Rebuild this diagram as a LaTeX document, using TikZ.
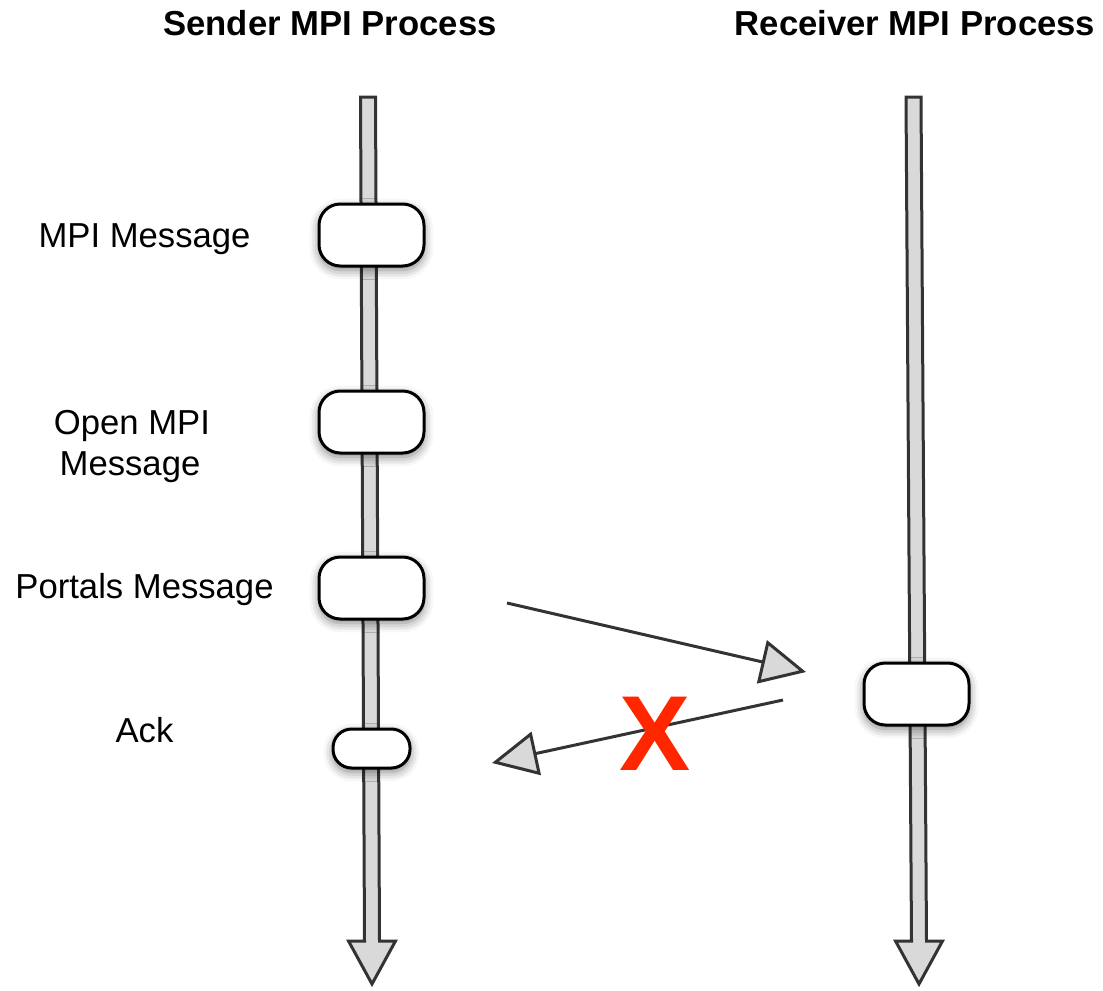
\documentclass[tikz,border=0pt]{standalone}
\usepackage{fontspec}
\setmainfont{Liberation Sans}
\usetikzlibrary{arrows.meta,shadows.blur}
\definecolor{shaftgray}{HTML}{D9D9D9}
\definecolor{edgegray}{HTML}{333333}
\definecolor{xred}{HTML}{FF2600}
\tikzset{
  proc/.style={font=\bfseries\fontsize{26}{28}\selectfont, anchor=base},
  lbl/.style={font=\fontsize{26}{28}\selectfont, align=center},
  evt/.style={draw=black, line width=2.25pt, fill=white, rounded corners=16pt,
    minimum width=78.75pt, minimum height=46.5pt, inner sep=0pt,
    blur shadow={shadow xshift=0pt, shadow yshift=-3pt, shadow blur radius=7pt, shadow opacity=50}},
  ackevt/.style={evt, rounded corners=14pt, minimum width=57.75pt, minimum height=29.25pt},
  msg/.style={draw=edgegray, line width=2.25pt,
    -{Triangle[length=34pt,width=33pt,fill=shaftgray,line join=miter]}},
  shaft/.style={draw=edgegray, fill=shaftgray, line width=2.25pt, line join=miter}
}
\begin{document}
\begin{tikzpicture}[x=0.75pt,y=-0.75pt]
  \useasboundingbox (0,0) rectangle (1103,990);
  % titles
  \node[proc] (sndtitle) at (330,35) {Sender MPI Process};
  \node[proc] (rcvtitle) at (915,35) {Receiver MPI Process};
  % life lines
  \foreach \top/\bot in {368/372, 913.5/919}{
    \draw[shaft] (\top-7.5,97) -- (\bot-7.5,941) -- (\bot-23.5,941) -- (\bot,984)
      -- (\bot+23.5,941) -- (\bot+7.5,941) -- (\top+7.5,97) -- cycle;
  }
  % events
  \node[evt] (mpimsg) at (371.5,235) {};
  \node[evt] (openmsg) at (371.5,422) {};
  \node[evt] (portmsg) at (371.5,588) {};
  \node[ackevt] (ack) at (371.5,748.5) {};
  \node[evt] (recvmsg) at (916.5,694) {};
  % labels
  \node[lbl, anchor=base] (mpilbl) at (144.5,247) {MPI Message};
  \node[lbl, anchor=base] (openlbl) at (132,434) {Open MPI};
  \node[lbl, anchor=base] (openlbl2) at (130,475) {Message};
  \node[lbl, anchor=base] (portlbl) at (144.5,598) {Portals Message};
  \node[lbl, anchor=base] (acklbl) at (144.5,742) {Ack};
  % messages
  \coordinate (sendfrom) at (507,603);
  \coordinate (sendto) at (806,672);
  \coordinate (ackfrom) at (783,700);
  \coordinate (ackto) at (492,763);
  \draw[msg] (sendfrom) -- (sendto);
  \draw[msg] (ackfrom) -- (ackto);
  \node[font=\bfseries\fontsize{80}{80}\selectfont, text=xred, anchor=base] (lost) at (655,770) {X};
\end{tikzpicture}
\end{document}
